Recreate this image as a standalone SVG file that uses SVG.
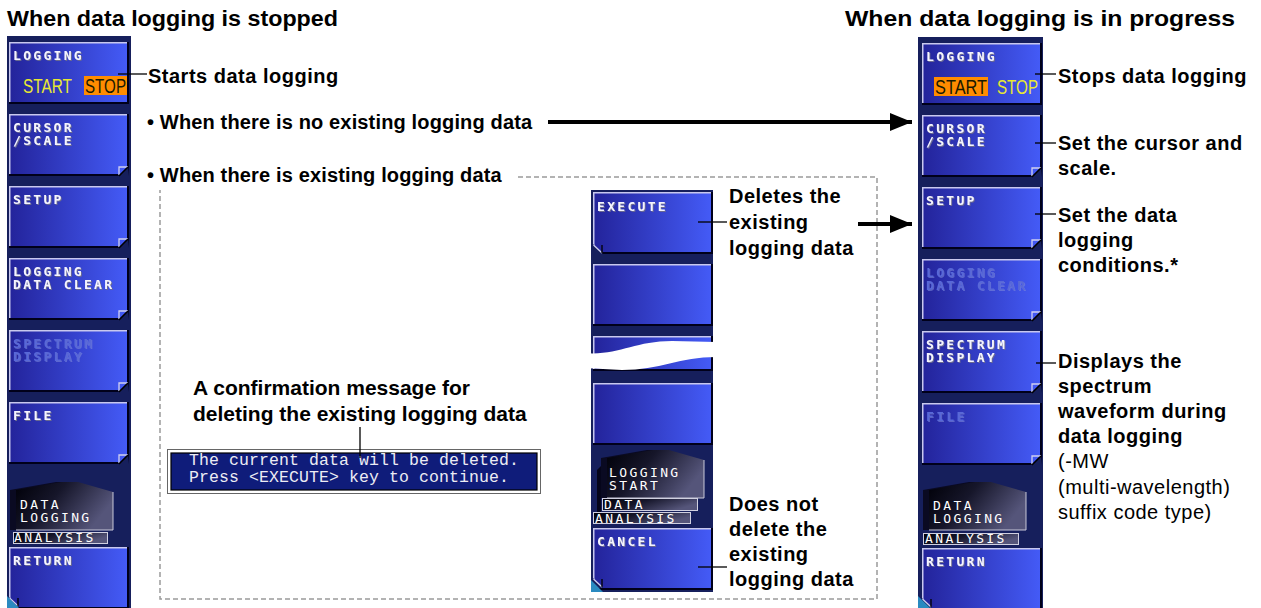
<svg xmlns="http://www.w3.org/2000/svg" xmlns:xlink="http://www.w3.org/1999/xlink" width="1261" height="608" viewBox="0 0 1261 608">
<style>
.lb{font-family:"Liberation Sans",Arial,sans-serif;font-weight:bold;font-size:20px;letter-spacing:.5px;fill:#000}
.ln{font-family:"Liberation Sans",Arial,sans-serif;font-size:20px;letter-spacing:.5px;fill:#000}
.bl{font-family:"Liberation Sans",Arial,sans-serif;font-weight:bold;font-size:20px;letter-spacing:.15px;fill:#000}
.tt{font-family:"Liberation Sans",Arial,sans-serif;font-weight:bold;font-size:22px;fill:#000}
.cf{font-family:"Liberation Sans",Arial,sans-serif;font-weight:bold;font-size:21px;fill:#000}
.bt{font-family:"DejaVu Sans Mono",monospace;font-weight:bold;font-size:13px;letter-spacing:2.3px;fill:#f4f4ff;filter:url(#sh)}
.dim{fill:#5868d8;filter:url(#shd)}
.tb{font-family:"DejaVu Sans Mono",monospace;font-size:13px;letter-spacing:2.4px;fill:#ffffff}
.ss{font-family:"Liberation Sans",Arial,sans-serif;font-size:20px}
.msg{font-family:"Liberation Mono",monospace;font-size:16.5px;letter-spacing:.1px;fill:#ececf4}
.col{fill:#161f5c}
.ld{stroke:#000;stroke-width:1.3;fill:none}
.thick{stroke:#000;stroke-width:4;fill:none}
</style>
<defs>
<linearGradient id="gb" x1="0" x2="1" y1="0" y2="0"><stop offset="0" stop-color="#23239a"/><stop offset="1" stop-color="#445bf7"/></linearGradient>
<linearGradient id="gt" x1="0" x2="1" y1="0" y2="0.4"><stop offset="0" stop-color="#000008"/><stop offset="0.45" stop-color="#16162a"/><stop offset="1" stop-color="#55557a"/></linearGradient>
<filter id="sh" x="-5%" y="-20%" width="115%" height="150%"><feDropShadow dx="1" dy="1" stdDeviation="0" flood-color="#6a6a90"/></filter>
<filter id="shd" x="-5%" y="-20%" width="115%" height="150%"><feDropShadow dx="1" dy="1" stdDeviation="0" flood-color="#7a86d8" flood-opacity=".6"/></filter>
<marker id="ah" markerUnits="userSpaceOnUse" markerWidth="24" markerHeight="20" refX="22" refY="9" orient="auto"><path d="M0,0 L22,9 L0,18 Z" fill="#000"/></marker>
<g id="btn">
<rect width="119" height="61" fill="url(#gb)"/>
<path d="M0.75,61 V0.75 H119" stroke="#c8c8ee" stroke-width="1.5" fill="none"/>
<path d="M119,0 V61 H0" stroke="#00001a" stroke-width="2" fill="none"/>
</g>
<g id="foldR">
<polygon points="119,52 120,62 109,62" fill="#161f5c"/>
<path d="M110,61 V53 H119" stroke="#d0d0f0" stroke-width="1.3" fill="none"/>
<path d="M119,53 L110,62" stroke="#000" stroke-width="1.5"/>
</g>
<g id="foldL">
<polygon points="0,52 -1,62 10,62" fill="#161f5c"/>
<path d="M0.5,53 L9,61" stroke="#d0d0f0" stroke-width="1.3"/>
<path d="M9,53 V61" stroke="#000" stroke-width="1.3"/>
</g>
<g id="tabshape">
<polygon points="-6,8 40,0 56,0 91,10 91,48 -6,48" fill="#0a0a22"/>
<polygon points="0,8 46,0 62,0 97,10 97,48 0,48" fill="url(#gt)"/>
<path d="M97,10 V48 H0" stroke="#c8c8d8" stroke-width="1" fill="none"/>
</g>
</defs>

<rect width="1261" height="608" fill="#fff"/>

<g id="titles">
<text class="tt" x="7" y="26" textLength="331" lengthAdjust="spacingAndGlyphs">When data logging is stopped</text>
<text class="tt" x="845" y="26" textLength="390" lengthAdjust="spacingAndGlyphs">When data logging is in progress</text>
</g>

<g id="dashed-region">
<path d="M518,177 H877 V599 H160 V190" stroke="#9a9a9a" stroke-width="1.5" stroke-dasharray="5 3" fill="none"/>
</g>

<g id="menu-stopped">
<rect class="col" x="7" y="36" width="124" height="572"/>
<use xlink:href="#btn" x="9" y="42"/>
<use xlink:href="#btn" x="9" y="114"/><use xlink:href="#foldR" x="9" y="114"/>
<use xlink:href="#btn" x="9" y="186"/><use xlink:href="#foldR" x="9" y="186"/>
<use xlink:href="#btn" x="9" y="258"/><use xlink:href="#foldR" x="9" y="258"/>
<use xlink:href="#btn" x="9" y="330"/><use xlink:href="#foldR" x="9" y="330"/>
<use xlink:href="#btn" x="9" y="402"/><use xlink:href="#foldR" x="9" y="402"/>
<use xlink:href="#btn" x="9" y="547"/><use xlink:href="#foldL" x="9" y="545"/>
<polygon points="7,596 7,608 19,608" fill="#2a8ac0"/>
<text class="bt" x="13" y="60">LOGGING</text>
<text class="ss" x="23" y="93" fill="#e8e832" textLength="49" lengthAdjust="spacingAndGlyphs">START</text>
<rect x="84" y="76" width="43" height="19" fill="#ff8c00"/>
<text class="ss" x="85" y="93" fill="#1a1a00" textLength="41" lengthAdjust="spacingAndGlyphs">STOP</text>
<text class="bt" x="13" y="132">CURSOR</text>
<text class="bt" x="13" y="145">/SCALE</text>
<text class="bt" x="13" y="204">SETUP</text>
<text class="bt" x="13" y="276">LOGGING</text>
<text class="bt" x="13" y="289">DATA CLEAR</text>
<text class="bt dim" x="13" y="348">SPECTRUM</text>
<text class="bt dim" x="13" y="361">DISPLAY</text>
<text class="bt" x="13" y="420">FILE</text>
<use xlink:href="#tabshape" x="16" y="482"/>
<text class="tb" x="20" y="509">DATA</text>
<text class="tb" x="20" y="522">LOGGING</text>
<rect x="13.5" y="532.5" width="94" height="11" fill="url(#gt)" stroke="#d0d0e0" stroke-width="1"/>
<text class="tb" x="14" y="542">ANALYSIS</text>
<text class="bt" x="13" y="565">RETURN</text>
</g>

<g id="menu-existing">
<rect class="col" x="591" y="190" width="122" height="402"/>
<use xlink:href="#btn" x="593" y="192"/><use xlink:href="#foldL" x="593" y="192"/>
<use xlink:href="#btn" x="593" y="264"/>
<rect x="593" y="336" width="119" height="34" fill="url(#gb)"/>
<path d="M593.75,370 V336.75 H712" stroke="#c8c8ee" stroke-width="1.5" fill="none"/>
<path d="M712,336 V370 H593" stroke="#00001a" stroke-width="2" fill="none"/>
<path d="M584,353 C618,356 634,341 672,341 L716,342 L716,357 C680,357 660,370 622,370 L584,368 Z" fill="#fff"/>
<use xlink:href="#btn" x="593" y="383"/>
<use xlink:href="#tabshape" x="607" y="450"/>
<polygon points="597,470 601,466 601,520 597,520" fill="#05051a"/>
<text class="tb" x="609" y="477">LOGGING</text>
<text class="tb" x="609" y="490">START</text>
<rect x="602.5" y="498.5" width="95" height="12" fill="url(#gt)" stroke="#d0d0e0" stroke-width="1"/>
<text class="tb" x="604" y="509">DATA</text>
<rect x="593.5" y="512.5" width="97" height="11" fill="url(#gt)" stroke="#d0d0e0" stroke-width="1"/>
<text class="tb" x="595" y="523">ANALYSIS</text>
<use xlink:href="#btn" x="593" y="528"/><use xlink:href="#foldL" x="593" y="526"/>
<polygon points="591,580 591,592 603,592" fill="#2a8ac0"/>
<text class="bt" x="597" y="211">EXECUTE</text>
<text class="bt" x="597" y="546">CANCEL</text>
</g>

<g id="menu-progress">
<rect class="col" x="918" y="37" width="125" height="571"/>
<use xlink:href="#btn" x="922" y="43"/>
<use xlink:href="#btn" x="922" y="115"/><use xlink:href="#foldR" x="922" y="115"/>
<use xlink:href="#btn" x="922" y="187"/><use xlink:href="#foldR" x="922" y="187"/>
<use xlink:href="#btn" x="922" y="259"/><use xlink:href="#foldR" x="922" y="259"/>
<use xlink:href="#btn" x="922" y="331"/><use xlink:href="#foldR" x="922" y="331"/>
<use xlink:href="#btn" x="922" y="403"/><use xlink:href="#foldR" x="922" y="403"/>
<use xlink:href="#btn" x="922" y="548"/><use xlink:href="#foldL" x="922" y="546"/>
<polygon points="918,596 918,608 930,608" fill="#2a8ac0"/>
<text class="bt" x="926" y="61">LOGGING</text>
<rect x="934" y="77" width="54" height="19" fill="#ff8c00"/>
<text class="ss" x="935" y="94" fill="#1a1a00" textLength="52" lengthAdjust="spacingAndGlyphs">START</text>
<text class="ss" x="997" y="94" fill="#e8e832" textLength="41" lengthAdjust="spacingAndGlyphs">STOP</text>
<text class="bt" x="926" y="133">CURSOR</text>
<text class="bt" x="926" y="146">/SCALE</text>
<text class="bt" x="926" y="205">SETUP</text>
<text class="bt dim" x="926" y="277">LOGGING</text>
<text class="bt dim" x="926" y="290">DATA CLEAR</text>
<text class="bt" x="926" y="349">SPECTRUM</text>
<text class="bt" x="926" y="362">DISPLAY</text>
<text class="bt dim" x="926" y="421">FILE</text>
<use xlink:href="#tabshape" x="929" y="482"/>
<text class="tb" x="933" y="510">DATA</text>
<text class="tb" x="933" y="523">LOGGING</text>
<rect x="923.5" y="533.5" width="95" height="11" fill="url(#gt)" stroke="#d0d0e0" stroke-width="1"/>
<text class="tb" x="925" y="543">ANALYSIS</text>
<text class="bt" x="926" y="566">RETURN</text>
</g>

<g id="message-box">
<rect x="167.5" y="449.5" width="373" height="44" fill="#fff" stroke="#666" stroke-width="1"/>
<rect x="171" y="453" width="366" height="37" fill="#0f1c7a" stroke="#000" stroke-width="1.2"/>
<text class="msg" x="189" y="465">The current data will be deleted.</text>
<text class="msg" x="189" y="482">Press &lt;EXECUTE&gt; key to continue.</text>
</g>

<g id="labels">
<text class="lb" x="148" y="83">Starts data logging</text>
<text class="bl" x="147" y="129">• When there is no existing logging data</text>
<text class="bl" x="147" y="182">• When there is existing logging data</text>
<text class="cf" x="193" y="395">A confirmation message for</text>
<text class="cf" x="193" y="421">deleting the existing logging data</text>
<text class="lb" x="729" y="203">Deletes the</text>
<text class="lb" x="729" y="229">existing</text>
<text class="lb" x="729" y="255">logging data</text>
<text class="lb" x="729" y="511">Does not</text>
<text class="lb" x="729" y="536">delete the</text>
<text class="lb" x="729" y="561">existing</text>
<text class="lb" x="729" y="586">logging data</text>
<text class="lb" x="1058" y="83">Stops data logging</text>
<text class="lb" x="1058" y="150">Set the cursor and</text>
<text class="lb" x="1058" y="175">scale.</text>
<text class="lb" x="1058" y="222">Set the data</text>
<text class="lb" x="1058" y="247">logging</text>
<text class="lb" x="1058" y="272">conditions.*</text>
<text class="lb" x="1058" y="368">Displays the</text>
<text class="lb" x="1058" y="393">spectrum</text>
<text class="lb" x="1058" y="418">waveform during</text>
<text class="lb" x="1058" y="443">data logging</text>
<text class="ln" x="1058" y="468">(-MW</text>
<text class="ln" x="1058" y="494">(multi-wavelength)</text>
<text class="ln" x="1058" y="519">suffix code type)</text>
</g>

<g id="connectors">
<path class="ld" d="M118,74 H147"/>
<path class="ld" d="M360,427 V458"/>
<path class="ld" d="M698,222 H727"/>
<path class="ld" d="M698,567 H727"/>
<path class="ld" d="M1035,74 H1056"/>
<path class="ld" d="M1035,143 H1056"/>
<path class="ld" d="M1035,214 H1056"/>
<path class="ld" d="M1036,363 H1056"/>
<path class="thick" d="M548,122 H912" marker-end="url(#ah)"/>
<path class="thick" d="M858,224 H912" marker-end="url(#ah)"/>
</g>
</svg>
